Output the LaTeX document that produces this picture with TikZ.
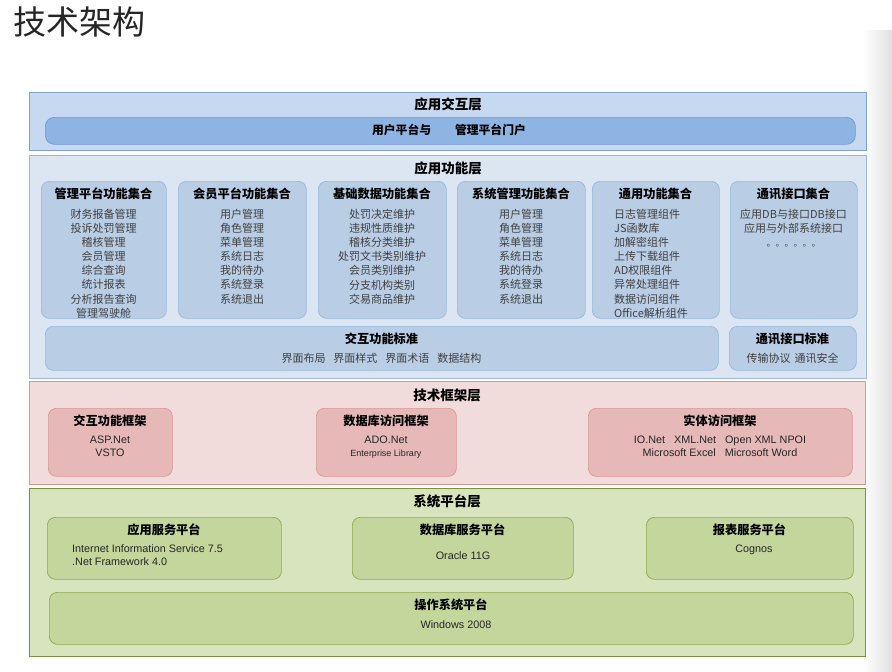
\documentclass[tikz,border=0pt]{standalone}
\usepackage{fontspec}
\setmainfont{Noto Sans CJK SC}
\newfontfamily\lat{Liberation Sans}
\usetikzlibrary{positioning}
\definecolor{bOut}{HTML}{C6D9F1}
\definecolor{bOutD}{HTML}{7DA2D6}
\definecolor{bBar}{HTML}{8EB4E3}
\definecolor{bBarD}{HTML}{6F9BD5}
\definecolor{fOut}{HTML}{DCE6F2}
\definecolor{fOutD}{HTML}{9DB9DD}
\definecolor{fIn}{HTML}{B9CDE5}
\definecolor{fInD}{HTML}{95B8E3}
\definecolor{rOut}{HTML}{F2DCDB}
\definecolor{rOutD}{HTML}{D99694}
\definecolor{rIn}{HTML}{E6B9B8}
\definecolor{rInD}{HTML}{D99694}
\definecolor{gOut}{HTML}{D7E4BD}
\definecolor{gOutD}{HTML}{77933C}
\definecolor{gIn}{HTML}{C3D69B}
\definecolor{gInD}{HTML}{8EAA4A}
\definecolor{itemc}{HTML}{404040}
\tikzset{
  layerbox/.style={draw, line width=0.9pt, anchor=north west, inner sep=0pt},
  innerbox/.style={draw, line width=0.7pt, rounded corners=8pt, anchor=north west, inner sep=0pt},
  lyrtitle/.style={font=\fontsize{13.5}{15}\selectfont\bfseries, text=black, inner sep=0pt},
  boxtitle/.style={font=\fontsize{12.2}{14}\selectfont\bfseries, text=black, inner sep=0pt},
  items/.style={font=\fontsize{11}{14.1}\selectfont, text=itemc, inner sep=0pt, align=center, anchor=north},
  latitems/.style={font=\lat\fontsize{10.8}{13}\selectfont, text=black!85, inner sep=0pt, align=center, anchor=north},
}
\begin{document}
\begin{tikzpicture}[x=1pt,y=-1pt]
\useasboundingbox (0,0) rectangle (892,672);
\fill[white] (0,0) rectangle (892,672);
\shade[left color=white, right color=black!12] (862,30) rectangle (892,672);
\node[anchor=west, inner sep=0pt, font=\fontsize{33}{36}\selectfont, text=black!85] (title) at (13,22) {技术架构};

% Layer 1
\node[layerbox, fill=bOut, draw=bOutD, minimum width=837pt, minimum height=58pt] (L1) at (29,92) {};
\node[lyrtitle] (L1t) at (448,104) {应用交互层};
\node[innerbox, fill=bBar, draw=bBarD, minimum width=810pt, minimum height=27pt, rounded corners=9pt] (bar) at (45,117) {};
\node[boxtitle, font=\fontsize{11.8}{13}\selectfont\bfseries] (bart) at (449,130) {用户平台与\hspace{24pt}管理平台门户};

% Layer 2
\node[layerbox, fill=fOut, draw=fOutD, minimum width=837pt, minimum height=223pt] (L2) at (29,155) {};
\node[lyrtitle] (L2t) at (448,168) {应用功能层};

\node[innerbox, fill=fIn, draw=fInD, minimum width=125pt, minimum height=137pt] (g1) at (41,181) {};
\node[boxtitle] (g1t) at (103.5,193.5) {管理平台功能集合};
\node[items] (g1i) at (103.5,209) {财务报备管理\\投诉处罚管理\\稽核管理\\会员管理\\综合查询\\统计报表\\分析报告查询\\管理驾驶舱};

\node[innerbox, fill=fIn, draw=fInD, minimum width=128pt, minimum height=137pt] (g2) at (178,181) {};
\node[boxtitle] (g2t) at (242,193.5) {会员平台功能集合};
\node[items] (g2i) at (242,209) {用户管理\\角色管理\\菜单管理\\系统日志\\我的待办\\系统登录\\系统退出};

\node[innerbox, fill=fIn, draw=fInD, minimum width=128pt, minimum height=137pt] (g3) at (318,181) {};
\node[boxtitle] (g3t) at (382,193.5) {基础数据功能集合};
\node[items] (g3i) at (382,209) {处罚决定维护\\违规性质维护\\稽核分类维护\\处罚文书类别维护\\会员类别维护\\分支机构类别\\交易商品维护};

\node[innerbox, fill=fIn, draw=fInD, minimum width=128pt, minimum height=137pt] (g4) at (457,181) {};
\node[boxtitle] (g4t) at (521,193.5) {系统管理功能集合};
\node[items] (g4i) at (521,209) {用户管理\\角色管理\\菜单管理\\系统日志\\我的待办\\系统登录\\系统退出};

\node[innerbox, fill=fIn, draw=fInD, minimum width=127pt, minimum height=137pt] (g5) at (592,181) {};
\node[boxtitle] (g5t) at (655.5,193.5) {通用功能集合};
\node[items, align=left, anchor=north west] (g5i) at (614,209) {日志管理组件\\JS函数库\\加解密组件\\上传下载组件\\AD权限组件\\异常处理组件\\数据访问组件\\Office解析组件};

\node[innerbox, fill=fIn, draw=fInD, minimum width=127pt, minimum height=137pt] (g6) at (730,181) {};
\node[boxtitle] (g6t) at (793.5,193.5) {通讯接口集合};
\node[items] (g6i) at (793.5,209) {应用DB与接口DB接口\\应用与外部系统接口\\{\fontsize{9}{14.1}\selectfont 。。。。。。}};

\node[innerbox, fill=fIn, draw=fInD, minimum width=673pt, minimum height=44pt] (s1) at (45,326) {};
\node[boxtitle] (s1t) at (381.5,339) {交互功能标准};
\node[items, anchor=center] (s1i) at (381.5,358) {界面布局\hspace{8pt}界面样式\hspace{8pt}界面术语\hspace{8pt}数据结构};

\node[innerbox, fill=fIn, draw=fInD, minimum width=127pt, minimum height=44pt] (s2) at (729,326) {};
\node[boxtitle] (s2t) at (792.5,339) {通讯接口标准};
\node[items, anchor=center] (s2i) at (792.5,358) {传输协议\hspace{4pt}通讯安全};

% Layer 3
\node[layerbox, fill=rOut, draw=rOutD, minimum width=836pt, minimum height=103pt] (L3) at (29,381) {};
\node[lyrtitle] (L3t) at (447,395) {技术框架层};

\node[innerbox, fill=rIn, draw=rInD, minimum width=124pt, minimum height=68pt] (r1) at (48,408) {};
\node[boxtitle] (r1t) at (110,420.5) {交互功能框架};
\node[latitems] (r1i) at (110,435.5) {ASP.Net\\VSTO};

\node[innerbox, fill=rIn, draw=rInD, minimum width=140pt, minimum height=68pt] (r2) at (316,408) {};
\node[boxtitle] (r2t) at (386,420.5) {数据库访问框架};
\node[latitems] (r2i) at (386,435.5) {ADO.Net\\[0pt]{\fontsize{9}{10}\selectfont Enterprise Library}};

\node[innerbox, fill=rIn, draw=rInD, minimum width=264pt, minimum height=68pt] (r3) at (588,408) {};
\node[boxtitle] (r3t) at (720,420.5) {实体访问框架};
\node[latitems] (r3i) at (720,435.5) {IO.Net\hspace{9pt}XML.Net\hspace{9pt}Open XML NPOI\\Microsoft Excel\hspace{9pt}Microsoft Word};

% Layer 4
\node[layerbox, fill=gOut, draw=gOutD, minimum width=836pt, minimum height=168pt] (L4) at (29,488) {};
\node[lyrtitle] (L4t) at (447,501.5) {系统平台层};

\node[innerbox, fill=gIn, draw=gInD, minimum width=234pt, minimum height=62pt] (p1) at (47,517) {};
\node[boxtitle] (p1t) at (164,529.5) {应用服务平台};
\node[latitems, align=left, anchor=north west] (p1i) at (72,544.5) {Internet Information Service 7.5\\.Net Framework 4.0};

\node[innerbox, fill=gIn, draw=gInD, minimum width=221pt, minimum height=62pt] (p2) at (352,517) {};
\node[boxtitle] (p2t) at (462.5,529.5) {数据库服务平台};
\node[latitems] (p2i) at (463,551) {Oracle 11G};

\node[innerbox, fill=gIn, draw=gInD, minimum width=207pt, minimum height=62pt] (p3) at (646,517) {};
\node[boxtitle] (p3t) at (749.5,529.5) {报表服务平台};
\node[latitems] (p3i) at (754,544.5) {Cognos};

\node[innerbox, fill=gIn, draw=gInD, minimum width=804pt, minimum height=52pt] (p4) at (49,592) {};
\node[boxtitle] (p4t) at (451,605) {操作系统平台};
\node[latitems] (p4i) at (456,620.5) {Windows 2008};
\end{tikzpicture}
\end{document}
